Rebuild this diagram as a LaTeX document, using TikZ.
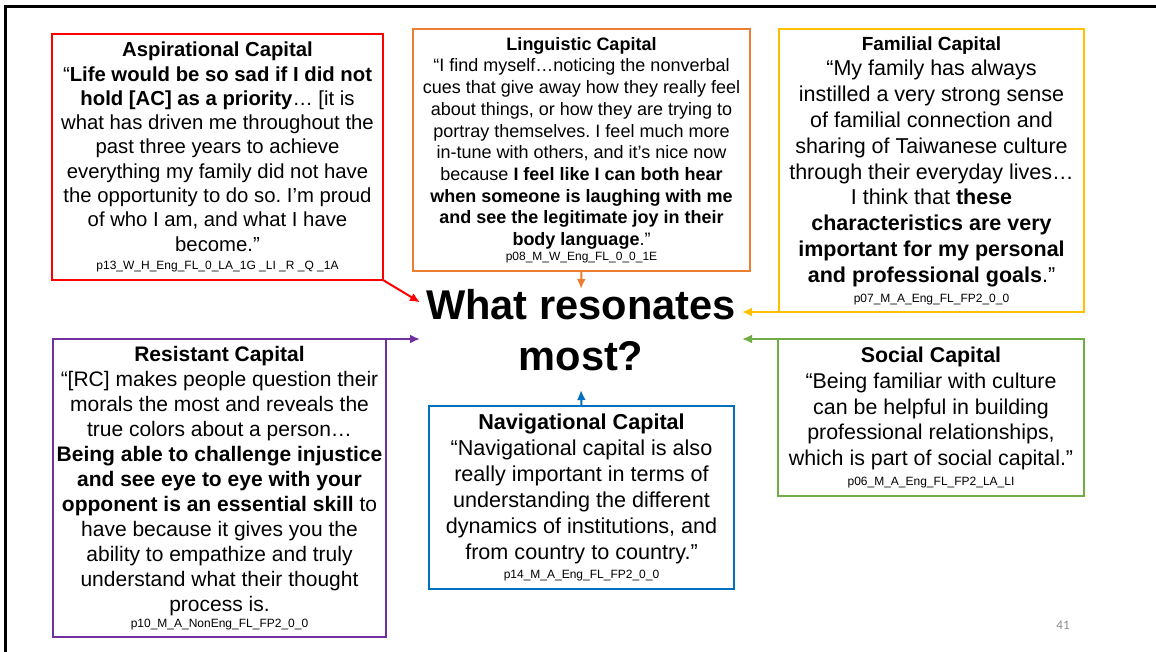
\documentclass[tikz,border=0pt]{standalone}
\usepackage{fontspec}
\setmainfont{Liberation Sans}
\newfontfamily\slidenofont{Carlito}
\usepackage{tikz}
\usetikzlibrary{positioning,arrows.meta}
\usepackage{xcolor}
\definecolor{aspred}{HTML}{FF0000}
\definecolor{lingorange}{HTML}{ED7D31}
\definecolor{famyellow}{HTML}{FFC000}
\definecolor{respurple}{HTML}{7030A0}
\definecolor{navblue}{HTML}{0070C0}
\definecolor{socgreen}{HTML}{70AD47}
\definecolor{slidegray}{HTML}{8C8C8C}
\newcommand{\partid}[1]{{\fontsize{12}{14}\selectfont #1}}
\frenchspacing

\begin{document}
\begin{tikzpicture}[x=1pt, y=-1pt, >={Latex[length=10pt,width=9pt]}, line width=2pt,
    capbox/.style = {draw, align=center, inner sep=0pt, outer sep=0pt}]
\useasboundingbox (0,0) rectangle (1156,652);
\draw[line width=2.6pt] (5.5,652) -- (5.5,6.5) -- (1156,6.5);

\node[capbox, draw=aspred, minimum width=331pt, minimum height=246pt,
      font=\fontsize{20.3}{24.3}\selectfont] (asp) at (217.5,157) {%
  {\bfseries Aspirational Capital}\\
  “\textbf{Life would be so sad if I did not}\\
  \textbf{hold [AC] as a priority}… [it is\\
  what has driven me throughout the\\
  past three years to achieve\\
  everything my family did not have\\
  the opportunity to do so. I’m proud\\
  of who I am, and what I have\\
  become.”\\[-6pt]
  \partid{p13\_W\_H\_Eng\_FL\_0\_LA\_1G \_LI \_R \_Q \_1A}};

\node[capbox, draw=lingorange, minimum width=337pt, minimum height=242pt,
      font=\fontsize{18}{21.7}\selectfont] (ling) at (581.5,150) {%
  {\bfseries Linguistic Capital}\\
  “I find myself…noticing the nonverbal\\
  cues that give away how they really feel\\
  about things, or how they are trying to\\
  portray themselves. I feel much more\\
  in-tune with others, and it’s nice now\\
  because \textbf{I feel like I can both hear}\\
  \textbf{when someone is laughing with me}\\
  \textbf{and see the legitimate joy in their}\\
  \textbf{body language}.”\\[-7pt]
  \partid{p08\_M\_W\_Eng\_FL\_0\_0\_1E}};

\node[capbox, draw=famyellow, minimum width=305pt, minimum height=283pt,
      font=\fontsize{21.5}{25.8}\selectfont] (fam) at (931.5,170.5) {%
  {\bfseries\fontsize{19}{25.8}\selectfont Familial Capital}\\
  “My family has always\\
  instilled a very strong sense\\
  of familial connection and\\
  sharing of Taiwanese culture\\
  through their everyday lives…\\
  I think that \textbf{these}\\
  \textbf{characteristics are very}\\
  \textbf{important for my personal}\\
  \textbf{and professional goals}.”\\[-6pt]
  \partid{p07\_M\_A\_Eng\_FL\_FP2\_0\_0}};

\node[capbox, draw=respurple, minimum width=333pt, minimum height=298pt,
      font=\fontsize{21}{25}\selectfont] (res) at (219.5,488) {%
  {\bfseries Resistant Capital}\\
  “[RC] makes people question their\\
  morals the most and reveals the\\
  true colors about a person…\\
  \textbf{Being able to challenge injustice}\\
  \textbf{and see eye to eye with your}\\
  \textbf{opponent is an essential skill} to\\
  have because it gives you the\\
  ability to empathize and truly\\
  understand what their thought\\
  process is.\\[-9pt]
  \partid{p10\_M\_A\_NonEng\_FL\_FP2\_0\_0}};

\node[capbox, draw=navblue, minimum width=305pt, minimum height=183pt,
      font=\fontsize{21.6}{26}\selectfont] (nav) at (581.5,497.5) {%
  {\bfseries Navigational Capital}\\
  “Navigational capital is also\\
  really important in terms of\\
  understanding the different\\
  dynamics of institutions, and\\
  from country to country.”\\[-7pt]
  \partid{p14\_M\_A\_Eng\_FL\_FP2\_0\_0}};

\node[capbox, draw=socgreen, minimum width=306pt, minimum height=157pt,
      font=\fontsize{21.4}{25.7}\selectfont] (soc) at (931,417.5) {%
  {\bfseries Social Capital}\\
  “Being familiar with culture\\
  can be helpful in building\\
  professional relationships,\\
  which is part of social capital.”\\[-6pt]
  \partid{p06\_M\_A\_Eng\_FL\_FP2\_LA\_LI}};

\node[align=center, inner sep=0pt, outer sep=0pt, minimum width=322pt,
      font=\bfseries\fontsize{41.6}{51}\selectfont] (q) at (581,339.5)
  {What resonates\\most?\rule[-20pt]{0pt}{0pt}};

\node[font=\slidenofont\fontsize{13}{15}\selectfont, text=slidegray] (pg) at (1063,625) {41};

\draw[->, aspred] (asp.south east) -- (q.167);
\draw[->, lingorange] (ling.south) -- (q.north);
\draw[->, famyellow] (fam.south west) -- (fam.south west -| q.east);
\draw[->, respurple] (res.north east) -- (res.north east -| q.west);
\draw[->, socgreen] (soc.north west) -- (soc.north west -| q.east);
\draw[->, navblue] (nav.north) -- (q.south);
\end{tikzpicture}
\end{document}
